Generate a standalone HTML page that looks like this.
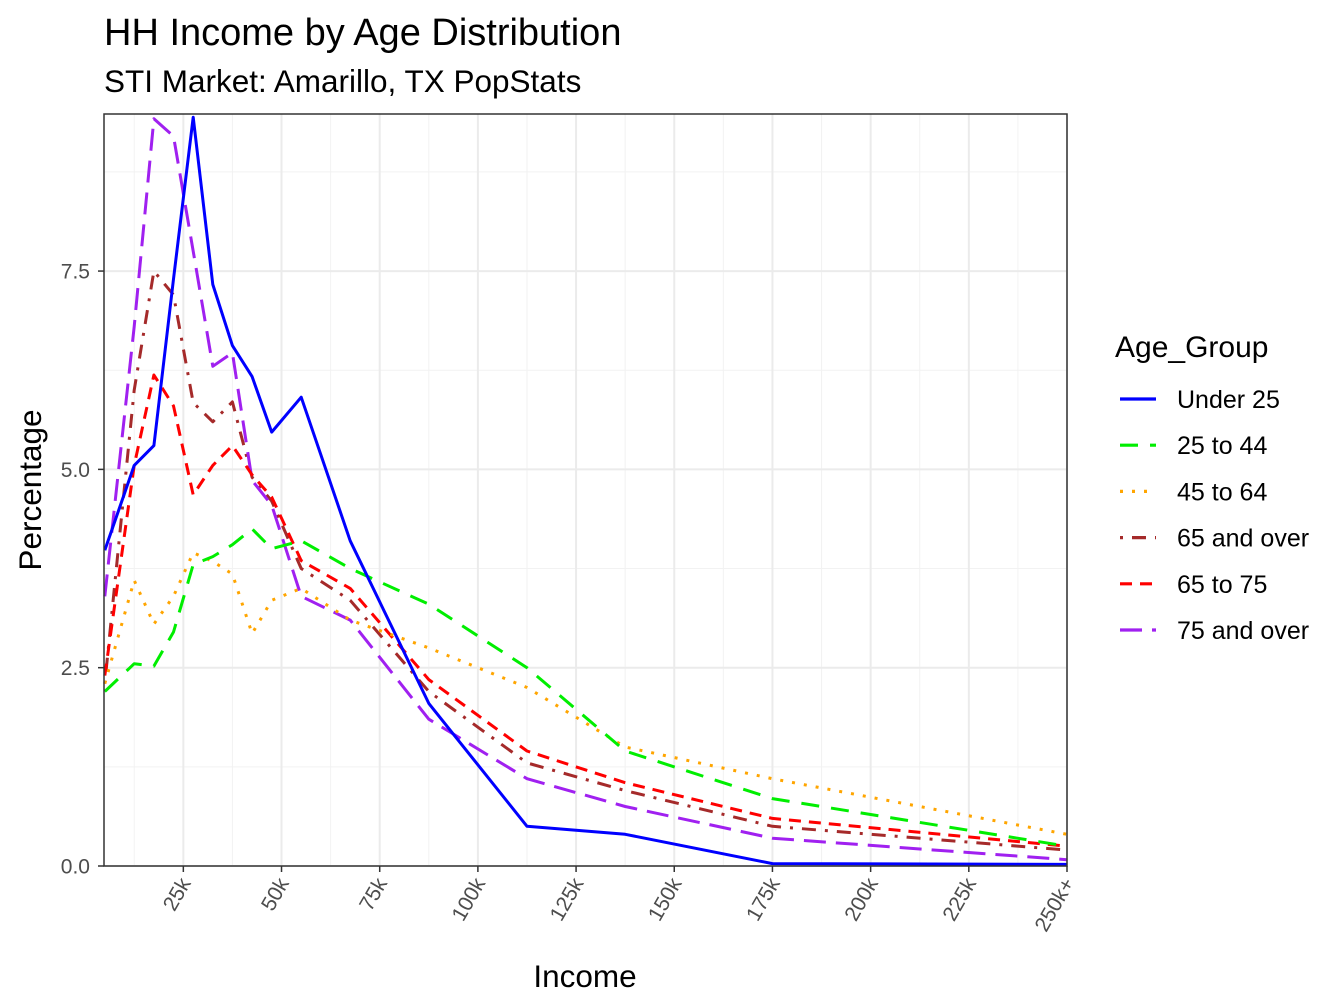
<!DOCTYPE html>
<html><head><meta charset="utf-8"><style>body{margin:0;background:#fff}svg{display:block;font-family:"Liberation Sans",Arial,sans-serif}</style></head>
<body>
<svg id="chart" width="1344" height="1008" viewBox="0 0 1344 1008">
<text x="104" y="45" font-size="38" fill="#000">HH Income by Age Distribution</text>
<text x="104" y="92" font-size="31.5" fill="#000">STI Market: Amarillo, TX PopStats</text>
<g id="grid"></g><g id="series"></g>
<rect x="104" y="114" width="963" height="752" fill="none" stroke="#333" stroke-width="1.5"/>
<g id="axes"></g>
<text transform="translate(41,490) rotate(-90)" text-anchor="middle" font-size="31.5">Percentage</text>
<text x="585" y="987" text-anchor="middle" font-size="31.5">Income</text>
<text x="1115" y="357" font-size="30">Age_Group</text>
<g id="legend"></g>
</svg>
<script>
const xValues=[5,12.5,17.5,22.5,27.5,32.5,37.5,42.5,47.5,55,67.5,87.5,112.5,137.5,175,250];
const under25=[3.98,5.05,5.3,7.4,9.44,7.33,6.56,6.17,5.47,5.91,4.1,2.05,0.5,0.4,0.03,0.02];
const age25to44=[2.2,2.55,2.52,2.95,3.8,3.9,4.05,4.25,4.0,4.1,3.75,3.3,2.5,1.45,0.85,0.25];
const age45to64=[2.3,3.6,3.05,3.4,3.95,3.84,3.68,2.93,3.35,3.5,3.1,2.75,2.25,1.5,1.1,0.4];
const age65plus=[2.3,6.0,7.5,7.2,5.84,5.6,5.85,4.9,4.6,3.75,3.35,2.2,1.3,0.95,0.5,0.2];
const age65to75=[2.4,5.05,6.19,5.8,4.68,5.05,5.3,4.93,4.65,3.85,3.5,2.35,1.45,1.05,0.6,0.25];
const age75plus=[3.4,6.8,9.42,9.2,7.75,6.3,6.47,4.86,4.55,3.4,3.1,1.85,1.1,0.75,0.35,0.08];
const seriesNames=["Under 25","25 to 44","45 to 64","65 and over","65 to 75","75 and over"];
const xTicks=[25,50,75,100,125,150,175,200,225,250];
const xTickLabels=["25k","50k","75k","100k","125k","150k","175k","200k","225k","250k+"];
const yTicks=[0,2.5,5,7.5];
const yTickLabels=["0.0","2.5","5.0","7.5"];
const NS="http://www.w3.org/2000/svg";
const L=104,R=1067,T=114,B=866;
const X0=4.8,X1=250,Y0=0,Y1=9.48;
const xs=v=>L+(v-X0)/(X1-X0)*(R-L);
const ys=v=>B-(v-Y0)/(Y1-Y0)*(B-T);
function mk(tag,attrs,parent){const e=document.createElementNS(NS,tag);for(const k in attrs)e.setAttribute(k,attrs[k]);parent.appendChild(e);return e;}
const grid=document.getElementById('grid'),axes=document.getElementById('axes'),ser=document.getElementById('series'),leg=document.getElementById('legend');
mk('rect',{x:L,y:T,width:R-L,height:B-T,fill:'#fff'},grid);
for(let i=0;i<xTicks.length;i++){const m=xTicks[i]-12.5;if(m>X0){const g=mk('line',{x1:xs(m),x2:xs(m),y1:T,y2:B,stroke:'#f2f2f2','stroke-width':1},grid);}}
for(let i=0;i<yTicks.length;i++){const m=yTicks[i]+1.25;if(m<Y1){const g=mk('line',{x1:L,x2:R,y1:ys(m),y2:ys(m),stroke:'#f2f2f2','stroke-width':1},grid);}}
xTicks.forEach((t,i)=>{const g=mk('line',{x1:xs(t),x2:xs(t),y1:T,y2:B,stroke:'#ebebeb','stroke-width':2},grid);
const tk=mk('line',{x1:xs(t),x2:xs(t),y1:B,y2:B+6,stroke:'#333','stroke-width':1.5},axes);
const tx=mk('text',{transform:`translate(${xs(t)+8},${B+17}) rotate(-60)`,'text-anchor':'end','font-size':21,fill:'#4d4d4d'},axes);tx.textContent=xTickLabels[i];});
yTicks.forEach((t,i)=>{const g=mk('line',{x1:L,x2:R,y1:ys(t),y2:ys(t),stroke:'#ebebeb','stroke-width':2},grid);
const tk=mk('line',{x1:L-6,x2:L,y1:ys(t),y2:ys(t),stroke:'#333','stroke-width':1.5},axes);
const tx=mk('text',{x:L-14,y:ys(t)+7.5,'text-anchor':'end','font-size':21,fill:'#4d4d4d'},axes);tx.textContent=yTickLabels[i];});
const allSeries=[under25,age25to44,age45to64,age65plus,age65to75,age75plus];
const colors=["#0000ff","#00ee00","#ffa500","#a52a2a","#ff0000","#a020f0"];
const dashes=["","18 12","3 9","3 9 14 9","12 8","22 10"];
const slug=["under-25","25-to-44","45-to-64","65-and-over","65-to-75","75-and-over"];
const order=[3,5,4,2,1,0];
order.forEach(si=>{const d=allSeries[si].map((v,i)=>(i?'L':'M')+xs(xValues[i]).toFixed(1)+','+ys(v).toFixed(1)).join(' ');
const p=mk('path',{d:d,fill:'none',stroke:colors[si],'stroke-width':3,'stroke-dasharray':dashes[si],'stroke-linejoin':'round'},ser);
});
seriesNames.forEach((n,i)=>{const y=399+i*46.2;
const g=mk('g',{},leg);
mk('line',{x1:1120,x2:1156,y1:y,y2:y,stroke:colors[i],'stroke-width':3.2,'stroke-dasharray':dashes[i]},g);
const t=mk('text',{x:1177,y:y+9,'font-size':25},g);t.textContent=n;});
</script>
</body></html>
